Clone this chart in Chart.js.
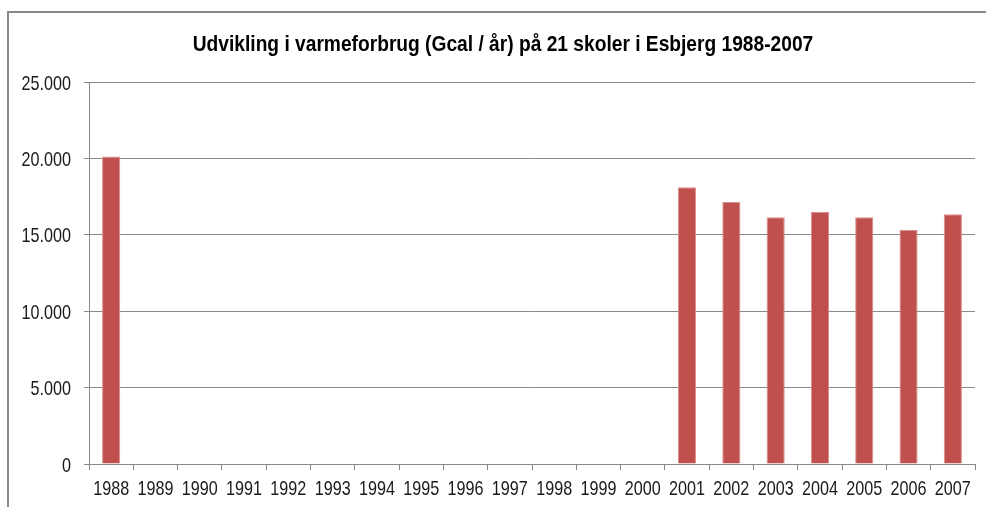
<!DOCTYPE html>
<html>
<head>
<meta charset="utf-8">
<script src="https://cdn.jsdelivr.net/npm/chart.js@4/dist/chart.umd.min.js"></script>
<style>
html,body{margin:0;padding:0;background:#fff;}
#wrap{width:986px;height:507px;position:relative;}
</style>
</head>
<body>
<div id="wrap"><canvas id="c" width="986" height="507"></canvas></div>
<script>
const titleText = "Udvikling i varmeforbrug (Gcal / år) på 21 skoler i Esbjerg 1988-2007";
const years = ["1988","1989","1990","1991","1992","1993","1994","1995","1996","1997","1998","1999","2000","2001","2002","2003","2004","2005","2006","2007"];
const consumption = [20120,null,null,null,null,null,null,null,null,null,null,null,null,18120,17150,16150,16490,16150,15310,16340];
const yTicks = [0,5000,10000,15000,20000,25000];
const yTickLabels = ["0","5.000","10.000","15.000","20.000","25.000"];

const FONT = "'Liberation Sans','Arial',sans-serif";

// Condensed text (the original uses a narrow font): draw with horizontal scaling
function narrowText(ctx, text, x, y, opts){
  ctx.save();
  ctx.font = opts.font;
  ctx.fillStyle = opts.color;
  ctx.textAlign = opts.align;
  ctx.textBaseline = opts.baseline;
  ctx.translate(x, y);
  ctx.scale(opts.sx, 1);
  ctx.fillText(text, 0, 0);
  ctx.restore();
}

const framePlugin = {
  id: 'frame',
  beforeDraw(chart){
    const ctx = chart.ctx;
    ctx.save();
    ctx.fillStyle = '#fff';
    ctx.fillRect(0,0,chart.width,chart.height);
    ctx.strokeStyle = '#888888';
    ctx.lineWidth = 2;
    ctx.beginPath();
    ctx.moveTo(8, chart.height + 5);
    ctx.lineTo(8, 12);
    ctx.lineTo(chart.width + 5, 12);
    ctx.stroke();
    ctx.restore();
  },
  afterDraw(chart){
    const ctx = chart.ctx;
    const xs = chart.scales.x, ys = chart.scales.y;
    // title
    narrowText(ctx, titleText, 503, 51, {font: "bold 22px " + FONT, color: '#000', align: 'center', baseline: 'alphabetic', sx: 0.872});
    // x labels
    chart.data.labels.forEach((lab, i) => {
      narrowText(ctx, lab, xs.getPixelForTick(i), 495, {font: "21px " + FONT, color: '#1a1a1a', align: 'center', baseline: 'alphabetic', sx: 0.77});
    });
    // y labels
    yTicks.forEach((v, i) => {
      narrowText(ctx, yTickLabels[i], 71, ys.getPixelForValue(v) + 7.5, {font: "21px " + FONT, color: '#1a1a1a', align: 'right', baseline: 'alphabetic', sx: 0.77});
    });
  }
};

new Chart(document.getElementById('c'), {
  type: 'bar',
  data: {
    labels: years,
    datasets: [{
      data: consumption,
      backgroundColor: '#C0504D',
      borderColor: '#D9908E',
      borderWidth: {top:1,left:1,right:1,bottom:0},
      categoryPercentage: 1,
      barPercentage: 0.41
    }]
  },
  options: {
    responsive: false,
    animation: false,
    devicePixelRatio: 1,
    layout: { padding: { left: 8, right: 11, top: 82, bottom: 0 } },
    plugins: {
      legend: { display: false },
      tooltip: { enabled: false },
      title: { display: false }
    },
    scales: {
      x: {
        offset: true,
        grid: { display: true, drawOnChartArea: false, offset: true, color: '#888888', tickLength: 6, tickWidth: 1 },
        border: { color: '#888888', width: 1 },
        ticks: { display: false, autoSkip: false },
        afterFit(s){ s.height = 43; }
      },
      y: {
        min: 0, max: 25000,
        afterBuildTicks(s){ s.ticks = yTicks.map(v => ({value: v})); },
        grid: { color: '#888888', lineWidth: 1, tickLength: 5, drawTicks: true },
        border: { color: '#888888', width: 1 },
        ticks: { display: false },
        afterFit(s){ s.width = 81; }
      }
    }
  },
  plugins: [framePlugin]
});
</script>
</body>
</html>
